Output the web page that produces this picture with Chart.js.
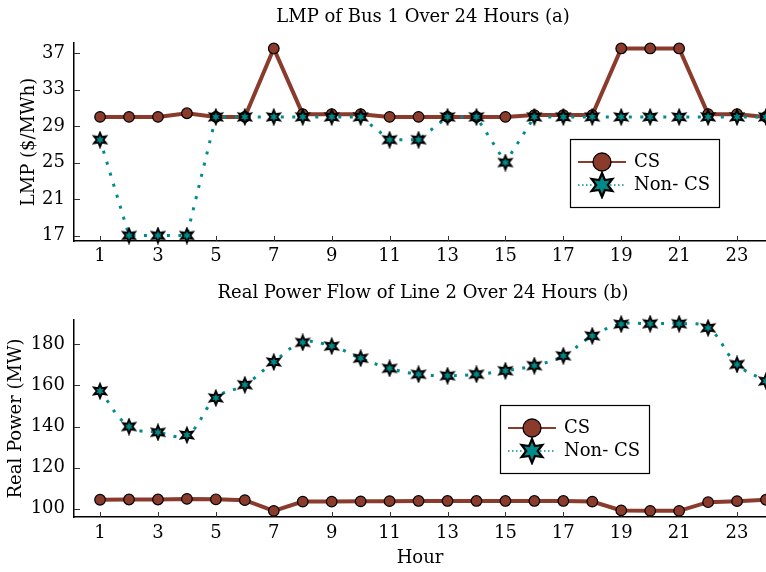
<!DOCTYPE html>
<html>
<head>
<meta charset="utf-8">
<script src="https://cdn.jsdelivr.net/npm/chart.js@4/dist/chart.umd.min.js"></script>
<style>
html,body{margin:0;padding:0;background:#fff;}
#wrap{position:relative;width:766px;height:572px;overflow:hidden;}
#c1{position:absolute;left:0;top:0;}
#c2{position:absolute;left:0;top:278px;}
</style>
</head>
<body>
<div id="wrap">
<canvas id="c1" width="766" height="278"></canvas>
<canvas id="c2" width="766" height="294"></canvas>
</div>
<script>
const hours = [1,2,3,4,5,6,7,8,9,10,11,12,13,14,15,16,17,18,19,20,21,22,23,24];
const hourTicks = [1,3,5,7,9,11,13,15,17,19,21,23];

const lmpCS    = [30.0,30.0,30.0,30.4,30.0,30.0,37.5,30.3,30.3,30.3,30.0,30.0,30.0,30.0,30.0,30.2,30.2,30.2,37.5,37.5,37.5,30.3,30.3,30.0];
const lmpNonCS = [27.5,17.0,17.0,17.0,30.0,30.0,30.0,30.0,30.0,30.0,27.5,27.5,30.0,30.0,25.0,30.0,30.0,30.0,30.0,30.0,30.0,30.0,30.0,30.0];
const lmpTicks = [17,21,25,29,33,37];

const flowCS    = [104.4,104.5,104.5,104.8,104.6,104.2,99.0,103.5,103.5,103.6,103.7,103.8,103.8,103.8,103.8,103.8,103.8,103.5,99.2,99.0,99.0,103.2,103.7,104.4];
const flowNonCS = [157.3,140.0,137.2,135.9,153.9,160.3,171.4,180.9,179.1,173.2,168.3,165.4,164.7,165.4,167.1,169.6,174.4,184.1,189.8,190.0,190.0,188.0,170.2,162.1];
const flowTicks = [100,120,140,160,180];

const seriesNames = ['CS','Non- CS'];

const BROWN = '#8b3b2c';
const TEAL = '#008b8b';
const FONT = "'DejaVu Serif', serif";
const FS = 18;

function makeStar(R, lw){
  const pad = 2;
  const size = Math.ceil(2*R + 2*pad);
  const cv = document.createElement('canvas');
  cv.width = size; cv.height = size;
  const c = cv.getContext('2d');
  const cx = size/2, cy = size/2, r = R*0.48;
  c.beginPath();
  for(let i=0;i<12;i++){
    const a = -Math.PI/2 + i*Math.PI/6;
    const rr = (i%2===0)?R:r;
    const px = cx + rr*Math.cos(a), py = cy + rr*Math.sin(a);
    if(i===0) c.moveTo(px,py); else c.lineTo(px,py);
  }
  c.closePath();
  c.fillStyle = TEAL; c.fill();
  c.lineWidth = lw; c.strokeStyle = '#000'; c.lineJoin='miter'; c.stroke();
  return cv;
}
const starSmall = makeStar(7, 1.9);
const starBig = makeStar(12, 2.2);

function pts(ys){ return hours.map((h,i)=>({x:h,y:ys[i]})); }

const decor = {
  id:'decor',
  beforeDatasetsDraw(chart, args, opts){
    const ctx = chart.ctx, a = chart.chartArea;
    const xs = chart.scales.x, ys = chart.scales.y;
    ctx.save();
    ctx.strokeStyle = '#333'; ctx.lineWidth = 1;
    hourTicks.forEach(v=>{
      const p = Math.round(xs.getPixelForValue(v))+0.5;
      ctx.beginPath(); ctx.moveTo(p,a.bottom); ctx.lineTo(p,a.bottom-5); ctx.stroke();
    });
    opts.yt.forEach(v=>{
      const p = Math.round(ys.getPixelForValue(v))+0.5;
      ctx.beginPath(); ctx.moveTo(a.left,p); ctx.lineTo(a.left+6,p); ctx.stroke();
    });
    ctx.restore();
  },
  afterDraw(chart, args, opts){
    const ctx = chart.ctx, a = chart.chartArea;
    ctx.save();
    ctx.fillStyle = '#000'; ctx.font = FS+"px "+FONT; ctx.textAlign='center'; ctx.textBaseline='middle';
    ctx.fillText(opts.title, (a.left+a.right)/2 + 3, opts.ty);
    const bx = opts.lx, by = opts.ly, bw = 149, bh = 68;
    ctx.fillStyle = '#fff';
    ctx.fillRect(bx,by,bw,bh);
    ctx.strokeStyle = '#000'; ctx.lineWidth = 1.2;
    ctx.strokeRect(bx+0.5,by+0.5,bw,bh);
    const r1 = by+23, r2 = by+46;
    ctx.strokeStyle = BROWN; ctx.lineWidth = 2;
    ctx.beginPath(); ctx.moveTo(bx+8,r1); ctx.lineTo(bx+56,r1); ctx.stroke();
    ctx.beginPath(); ctx.arc(bx+32,r1,9,0,Math.PI*2);
    ctx.fillStyle = BROWN; ctx.fill(); ctx.lineWidth = 1.3; ctx.strokeStyle = '#000'; ctx.stroke();
    ctx.strokeStyle = TEAL; ctx.lineWidth = 1.3; ctx.setLineDash([1.5,2.5]);
    ctx.beginPath(); ctx.moveTo(bx+8,r2); ctx.lineTo(bx+56,r2); ctx.stroke();
    ctx.setLineDash([]);
    ctx.drawImage(starBig, bx+32-starBig.width/2, r2-starBig.height/2);
    ctx.fillStyle = '#000'; ctx.font = FS+"px "+FONT; ctx.textAlign='left'; ctx.textBaseline='middle';
    ctx.fillText(seriesNames[0], bx+64, r1);
    ctx.fillText(seriesNames[1], bx+64, r2);
    ctx.restore();
  }
};

function makeChart(id, cfg){
  return new Chart(document.getElementById(id), {
    type:'line',
    data:{datasets:[
      {label:seriesNames[1], data:pts(cfg.nonCS), order:1, clip:false, borderColor:TEAL, borderWidth:3, borderDash:[3,8.5],
       borderCapStyle:'butt', tension:cfg.tension, pointStyle:starSmall, pointRadius:8, pointHoverRadius:8,
       backgroundColor:TEAL},
      {label:seriesNames[0], data:pts(cfg.cs), order:2, clip:false, borderColor:BROWN, borderWidth:4, tension:0,
       pointStyle:'circle', pointRadius:5.3, pointHoverRadius:5.3, pointBackgroundColor:BROWN,
       pointBorderColor:'#000', pointBorderWidth:1.2, backgroundColor:BROWN}
    ]},
    options:{
      responsive:false, animation:false, events:[],
      layout:{autoPadding:false, padding:{left:0,right:0,top:cfg.padTop,bottom:0}},
      plugins:{
        legend:{display:false}, tooltip:{enabled:false}, title:{display:false},
        decor:{lx:cfg.lx, ly:cfg.ly, yt:cfg.yticks, title:cfg.title, ty:cfg.ty}
      },
      scales:{
        x:{type:'linear', min:0.1, max:24,
           afterBuildTicks:s=>{s.ticks = hourTicks.map(v=>({value:v}));},
           afterFit:s=>{s.height = cfg.xh; s.paddingLeft = 0; s.paddingRight = 0;},
           grid:{display:true, drawOnChartArea:false, drawTicks:false, color:'#000'},
           border:{display:true,color:'#000',width:1.5},
           ticks:{color:'#000', padding:cfg.xtickPad, font:{family:FONT,size:FS}, maxRotation:0, autoSkip:false},
           title:{display:cfg.xtitle!==null, text:cfg.xtitle||'', color:'#000', font:{family:FONT,size:FS}, padding:{top:0,bottom:cfg.xtp}}
        },
        y:{type:'linear', min:cfg.ymin, max:cfg.ymax,
           afterBuildTicks:s=>{s.ticks = cfg.yticks.map(v=>({value:v}));},
           afterFit:s=>{s.width = 74;},
           grid:{display:true, drawOnChartArea:false, drawTicks:false, color:'#000'},
           border:{display:true,color:'#000',width:1.5},
           ticks:{color:'#000', padding:9, font:{family:FONT,size:FS}},
           title:{display:true, text:cfg.ytitle, color:'#000', font:{family:FONT,size:FS}, padding:{top:cfg.ytp,bottom:0}}
        }
      }
    },
    plugins:[decor]
  });
}

makeChart('c1', {cs:lmpCS, nonCS:lmpNonCS, tension:0, title:'LMP of Bus 1 Over 24 Hours (a)', ty:17, padTop:43,
  ymin:16.4, ymax:38.1, yticks:lmpTicks, ytitle:'LMP ($/MWh)', ytp:19, xh:37, xtickPad:5, xtitle:null, xtp:0, lx:570, ly:139});
makeChart('c2', {cs:flowCS, nonCS:flowNonCS, tension:0.4, title:'Real Power Flow of Line 2 Over 24 Hours (b)', ty:15, padTop:42,
  ymin:96, ymax:191.8, yticks:flowTicks, ytitle:'Real Power (MW)', ytp:6, xh:55, xtickPad:6, xtitle:'Hour', xtp:3, lx:500, ly:127});
</script>
</body>
</html>
